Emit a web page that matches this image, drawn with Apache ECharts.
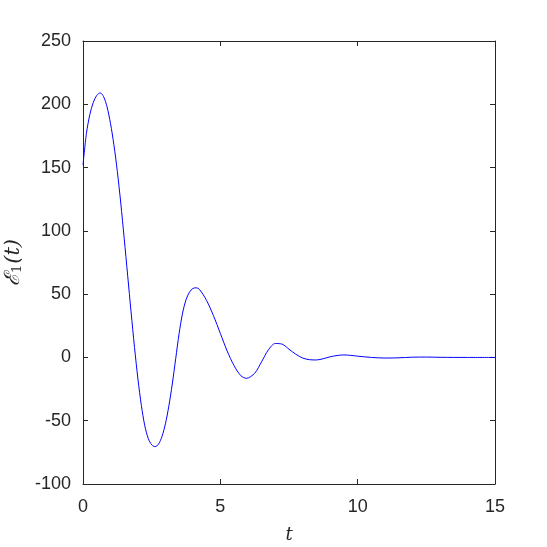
<!DOCTYPE html>
<html><head><meta charset="utf-8">
<script src="https://cdn.jsdelivr.net/npm/echarts@6/dist/echarts.min.js"></script>
<style>html,body{margin:0;padding:0;background:#fff}#c{width:547px;height:547px}</style>
</head><body><div id="c"></div>
<script>
var tValues = [0,0.125,0.25,0.375,0.5,0.625,0.75,0.875,1.0,1.125,1.25,1.375,1.5,1.625,1.75,1.875,2.0,2.125,2.25,2.375,2.5,2.625,2.75,2.875,3.0,3.125,3.25,3.375,3.5,3.625,3.75,3.875,4.0,4.125,4.25,4.5,4.75,5.0,5.25,5.5,5.75,5.95,6.25,6.5,6.75,7.0,7.25,7.5,7.75,8.0,8.25,8.5,8.75,9.0,9.25,9.5,9.75,10,10.5,11,11.5,12,12.5,13,14,15];
var eValues = [152,177,192,201.5,207,209,206,198,185,168,147,122,94,65,36,8,-17,-38,-54,-64,-69,-70.5,-68.5,-62.5,-52.5,-38.5,-21,-1,19,35,45.5,51.5,54.5,55,53.5,45,33,19,5,-6.5,-14.5,-16.5,-12.5,-3.5,6,11,10.5,6.5,2.5,-0.5,-1.8,-2,-1,0.5,1.5,2,1.6,1,0,-0.5,-0.3,0.2,0.3,0.1,0,0];
var xTicks = [0,5,10,15];
var yTicks = [-100,-50,0,50,100,150,200,250];

var data = tValues.map(function(t,i){return [t,eValues[i]];});
var axisCol = '#262626';
var chart = echarts.init(document.getElementById('c'));
var lbl = {color: axisCol, fontSize: 18, fontFamily: 'Liberation Sans, Arial, sans-serif'};
chart.setOption({
  animation: false,
  grid: {left: 83, right: 52, top: 41, bottom: 63, show: false, containLabel: false, outerBoundsMode: 'none'},
  xAxis: [{
    type: 'value', min: xTicks[0], max: xTicks[xTicks.length-1], interval: 5, position: 'bottom',
    axisLine: {show: true, onZero: false, lineStyle: {color: axisCol, width: 1}},
    axisTick: {show: true, inside: true, length: 5, lineStyle: {color: axisCol}},
    axisLabel: Object.assign({margin: 14}, lbl),
    splitLine: {show: false},
    name: 't', nameLocation: 'middle', nameGap: 42,
    nameTextStyle: {fontFamily: 'DejaVu Serif, Liberation Serif, serif', fontStyle: 'italic', fontSize: 18, color: axisCol}
  },{
    type: 'value', min: xTicks[0], max: xTicks[xTicks.length-1], interval: 5, position: 'top',
    axisLine: {show: true, onZero: false, lineStyle: {color: axisCol, width: 1}},
    axisTick: {show: true, inside: true, length: 5, lineStyle: {color: axisCol}},
    axisLabel: {show: false}, splitLine: {show: false}
  }],
  yAxis: [{
    type: 'value', min: yTicks[0], max: yTicks[yTicks.length-1], interval: 50, position: 'left',
    axisLine: {show: true, onZero: false, lineStyle: {color: axisCol, width: 1}},
    axisTick: {show: true, inside: true, length: 5, lineStyle: {color: axisCol}},
    axisLabel: Object.assign({margin: 12}, lbl),
    splitLine: {show: false},
    name: '{a|ℰ}{b|1}{a|(t)}', nameLocation: 'middle', nameGap: 58, nameRotate: 90,
    nameTextStyle: {
      color: axisCol,
      rich: {
        a: {fontFamily: 'DejaVu Serif, Liberation Serif, serif', fontStyle: 'italic', fontSize: 21, color: axisCol},
        b: {fontFamily: 'DejaVu Serif, Liberation Serif, serif', fontSize: 13, color: axisCol, padding: [9,1,0,0]}
      }
    }
  },{
    type: 'value', min: yTicks[0], max: yTicks[yTicks.length-1], interval: 50, position: 'right',
    axisLine: {show: true, onZero: false, lineStyle: {color: axisCol, width: 1}},
    axisTick: {show: true, inside: true, length: 5, lineStyle: {color: axisCol}},
    axisLabel: {show: false}, splitLine: {show: false}
  }],
  series: [{
    type: 'line', data: data, showSymbol: false, smooth: 0.3,
    lineStyle: {color: '#0000ff', width: 1}, xAxisIndex: 0, yAxisIndex: 0
  }]
});
</script></body></html>
